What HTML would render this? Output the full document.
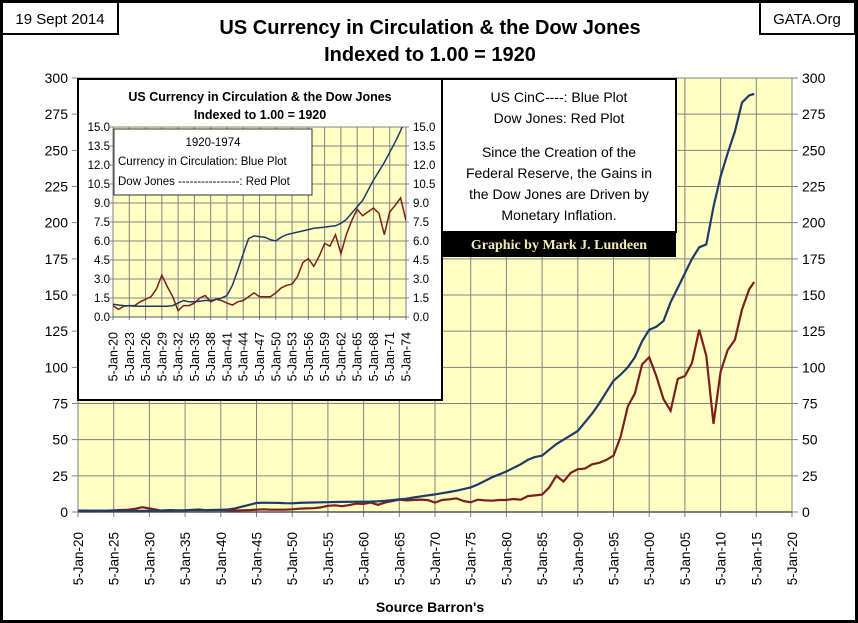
<!DOCTYPE html>
<html><head><meta charset="utf-8"><style>
body{margin:0;background:#fff}
svg{display:block;font-family:"Liberation Sans",sans-serif}
</style></head><body>
<svg id="c" width="858" height="623" viewBox="0 0 858 623">
<rect x="1.5" y="1.5" width="855" height="620" fill="#fff" stroke="#000" stroke-width="3"/>
<g><rect x="2" y="2" width="116" height="32" fill="#fff" stroke="#000" stroke-width="2"/><text x="60" y="24" text-anchor="middle" font-size="15">19 Sept 2014</text></g>
<g><rect x="760" y="2" width="95" height="32" fill="#fff" stroke="#000" stroke-width="2"/><text x="807" y="24" text-anchor="middle" font-size="15">GATA.Org</text></g>
<text x="430" y="34" text-anchor="middle" font-size="20" font-weight="bold">US Currency in Circulation &amp; the Dow Jones</text>
<text x="430" y="61" text-anchor="middle" font-size="20" font-weight="bold">Indexed to 1.00 = 1920</text>
<text x="430" y="612" text-anchor="middle" font-size="14" font-weight="bold">Source Barron's</text>
<g id="main"></g>
<g id="inset"></g>
<g>
<rect x="442" y="79" width="234" height="153" fill="#fff" stroke="#000" stroke-width="2"/>
<g font-size="14" text-anchor="middle">
<text x="559" y="102">US CinC----:  Blue Plot</text>
<text x="559" y="123">Dow Jones: Red Plot</text>
<text x="559" y="157">Since the Creation of the</text>
<text x="559" y="178">Federal Reserve, the Gains in</text>
<text x="559" y="199">the Dow Jones are Driven by</text>
<text x="559" y="220">Monetary Inflation.</text>
</g>
<rect x="442" y="232" width="234" height="25" fill="#000"/>
<text x="559" y="249" text-anchor="middle" font-size="14" font-weight="bold" font-family="Liberation Serif,serif" fill="#f4eab8">Graphic by Mark J. Lundeen</text>
</g>
</svg>
<script>
const years=[1920,1921,1922,1923,1924,1925,1926,1927,1928,1929,1930,1931,1932,1933,1934,1935,1936,1937,1938,1939,1940,1941,1942,1943,1944,1945,1946,1947,1948,1949,1950,1951,1952,1953,1954,1955,1956,1957,1958,1959,1960,1961,1962,1963,1964,1965,1966,1967,1968,1969,1970,1971,1972,1973,1974,1975,1976,1977,1978,1979,1980,1981,1982,1983,1984,1985,1986,1987,1988,1989,1990,1991,1992,1993,1994,1995,1996,1997,1998,1999,2000,2001,2002,2003,2004,2005,2006,2007,2008,2009,2010,2011,2012,2013,2014,2014.7];
const currency=[1.0,0.95,0.9,0.88,0.86,0.85,0.85,0.85,0.85,0.85,0.85,0.9,1.1,1.3,1.2,1.2,1.25,1.3,1.3,1.4,1.5,1.7,2.5,3.7,5.0,6.2,6.4,6.35,6.3,6.1,6.0,6.3,6.5,6.6,6.7,6.8,6.9,7.0,7.05,7.1,7.15,7.2,7.4,7.7,8.2,8.7,9.2,10.0,10.8,11.5,12.2,13.0,13.8,14.7,15.8,17,19,21.5,24,26,28,30.5,33,36,38,39,43,47,50,53,56,62,68,75,83,90.7,95,100,107,118,126,128,132,145,155,165,175,183,185,211,232,248,263,283,288,289];
const dow=[0.9,0.6,0.85,0.9,0.9,1.2,1.4,1.6,2.2,3.3,2.4,1.6,0.5,0.9,0.9,1.1,1.5,1.7,1.2,1.4,1.3,1.1,0.95,1.2,1.3,1.6,1.9,1.6,1.6,1.6,1.9,2.3,2.5,2.6,3.2,4.3,4.6,4.0,4.8,5.8,5.6,6.5,5.0,6.5,7.6,8.5,8.0,8.3,8.6,8.2,6.5,8.3,8.8,9.4,7.6,6.7,8.5,8.0,7.8,8.3,8.3,9.0,8.5,11,11.5,12,17,25,21,27,29.6,30,33,34,36,39,52,73,82,102,107,94,78,70,92,94,103,126,108,61,97,112,119,140,154,159];
const xTicks=["5-Jan-20","5-Jan-25","5-Jan-30","5-Jan-35","5-Jan-40","5-Jan-45","5-Jan-50","5-Jan-55","5-Jan-60","5-Jan-65","5-Jan-70","5-Jan-75","5-Jan-80","5-Jan-85","5-Jan-90","5-Jan-95","5-Jan-00","5-Jan-05","5-Jan-10","5-Jan-15","5-Jan-20"];
const yTicks=[0,25,50,75,100,125,150,175,200,225,250,275,300];
const insetXTicks=["5-Jan-20","5-Jan-23","5-Jan-26","5-Jan-29","5-Jan-32","5-Jan-35","5-Jan-38","5-Jan-41","5-Jan-44","5-Jan-47","5-Jan-50","5-Jan-53","5-Jan-56","5-Jan-59","5-Jan-62","5-Jan-65","5-Jan-68","5-Jan-71","5-Jan-74"];
const insetYTicks=["0.0","1.5","3.0","4.5","6.0","7.5","9.0","10.5","12.0","13.5","15.0"];
const NS="http://www.w3.org/2000/svg";
function mk(p,t,a){const e=document.createElementNS(NS,t);for(const k in a)e.setAttribute(k,a[k]);p.appendChild(e);return e;}

const M={x0:78,x1:792,y0:512,y1:78,ymax:300,xa:1920,xb:2020};
const mx=v=>M.x0+(v-M.xa)/(M.xb-M.xa)*(M.x1-M.x0);
const my=v=>M.y0-v/M.ymax*(M.y0-M.y1);
const g=document.getElementById('main');
const bg=mk(g,'rect',{x:M.x0,y:M.y1,width:M.x1-M.x0,height:M.y0-M.y1,fill:'#ffffc4'});


xTicks.forEach((t,i)=>{const x=mx(1920+i*5);
 const l=mk(g,'line',{x1:x,x2:x,y1:M.y1,y2:M.y0+5,stroke:'#808080','stroke-width':1});
 
 
 const tx=mk(g,'text',{x:0,y:0,transform:`translate(${x+5},${M.y0+20}) rotate(-90)`,'text-anchor':'end','font-size':'13.5'});
 tx.textContent=t;
 
 
});
yTicks.forEach(v=>{const y=my(v);
 const l=mk(g,'line',{x1:M.x0-6,x2:M.x1+6,y1:y,y2:y,stroke:'#808080','stroke-width':1});
 
 
 const a=mk(g,'text',{x:M.x0-10,y:y+5,'text-anchor':'end','font-size':'14'});a.textContent=v;
 
 
 const b=mk(g,'text',{x:M.x1+10,y:y+5,'font-size':'14'});b.textContent=v;
 
 
});
mk(g,'line',{x1:M.x0,x2:M.x1,y1:M.y0,y2:M.y0,stroke:'#555','stroke-width':1.5});
const pts=(arr,fx,fy,lim)=>years.map((yr,i)=>[yr,arr[i]]).filter(p=>p[0]<=lim).map(p=>fx(p[0]).toFixed(1)+','+fy(p[1]).toFixed(1)).join(' ');
const rl=mk(g,'polyline',{points:pts(dow,mx,my,3000),fill:'none',stroke:'#7a1f1f','stroke-width':2.2});


const bl=mk(g,'polyline',{points:pts(currency,mx,my,3000),fill:'none',stroke:'#1f3a68','stroke-width':2.2});



const I={x0:113,x1:406,y0:317,y1:127,ymax:15,xa:1920,xb:1974};
const ix=v=>I.x0+(v-I.xa)/(I.xb-I.xa)*(I.x1-I.x0);
const iy=v=>I.y0-v/I.ymax*(I.y0-I.y1);
const h=document.getElementById('inset');


mk(h,'rect',{x:78,y:79,width:364,height:321,fill:'#fff',stroke:'#000','stroke-width':2});
const it1=mk(h,'text',{x:260,y:101,'text-anchor':'middle','font-size':'12.5','font-weight':'bold'});it1.textContent='US Currency in Circulation & the Dow Jones';


const it2=mk(h,'text',{x:260,y:119,'text-anchor':'middle','font-size':'12.5','font-weight':'bold'});it2.textContent='Indexed to 1.00 = 1920';


mk(h,'rect',{x:I.x0,y:I.y1,width:I.x1-I.x0,height:I.y0-I.y1,fill:'#ffffc4'});
insetXTicks.forEach((t,i)=>{const x=ix(1920+i*3);
 const l=mk(h,'line',{x1:x,x2:x,y1:I.y1,y2:I.y0+3,stroke:'#808080','stroke-width':1});
 
 
 const tx=mk(h,'text',{x:0,y:0,transform:`translate(${x+4.5},${I.y0+15}) rotate(-90)`,'text-anchor':'end','font-size':'12.5'});
 tx.textContent=t;
 
 
});
insetYTicks.forEach((t,i)=>{const y=iy(i*1.5);
 const l=mk(h,'line',{x1:I.x0-3,x2:I.x1+3,y1:y,y2:y,stroke:'#808080','stroke-width':1});
 
 
 const a=mk(h,'text',{x:I.x0-3,y:y+4,'text-anchor':'end','font-size':'11.5'});a.textContent=t;
 
 
 const b=mk(h,'text',{x:I.x1+7,y:y+4,'font-size':'11.5'});b.textContent=t;
 
 
});
mk(h,'line',{x1:I.x0,x2:I.x1,y1:I.y0,y2:I.y0,stroke:'#555','stroke-width':1});
const cp=mk(h,'clipPath',{id:'ic'});mk(cp,'rect',{x:I.x0,y:I.y1,width:I.x1-I.x0,height:I.y0-I.y1});
const ir=mk(h,'polyline',{points:pts(dow,ix,iy,1974),fill:'none',stroke:'#7a1f1f','stroke-width':1.5,'clip-path':'url(#ic)'});


const ib=mk(h,'polyline',{points:pts(currency,ix,iy,1974),fill:'none',stroke:'#1f3a68','stroke-width':1.5,'clip-path':'url(#ic)'});


const lg=mk(h,'g',{});


mk(lg,'rect',{x:114,y:129,width:198,height:66,fill:'#fff',stroke:'#333','stroke-width':1});
[['1920-1974',213,146,'middle'],['Currency in Circulation: Blue Plot',118,165,'start'],['Dow Jones  ----------------: Red Plot',118,185,'start']].forEach(r=>{
 const t=mk(lg,'text',{x:r[1],y:r[2],'text-anchor':r[3],'font-size':'11.5'});t.textContent=r[0];});
</script>
</body></html>
